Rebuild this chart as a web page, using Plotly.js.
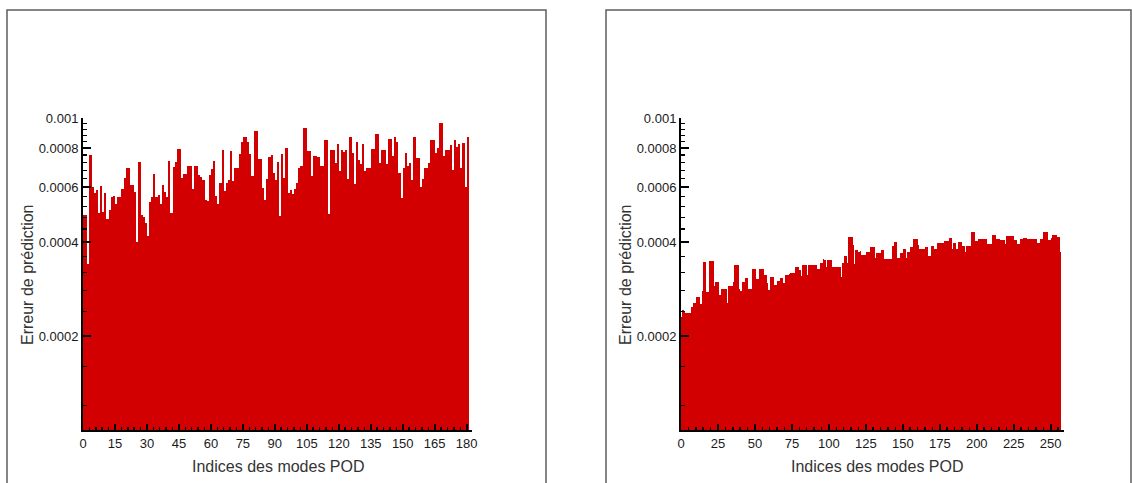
<!DOCTYPE html>
<html>
<head>
<meta charset="utf-8">
<script src="https://cdn.plot.ly/plotly-3.0.1.min.js"></script>
<style>
  html, body { margin: 0; padding: 0; background: #fff; }
  #chart { width: 1132px; height: 483px; }
</style>
</head>
<body>
<div id="chart"></div>
<script>
// Prediction error per POD mode (left: first case, right: second case), values x 1e-4
const errorLeft = [
  4.9, 4.9, 3.4, 7.6, 6.0, 5.75, 5.87, 4.96, 6.04, 5.0,
  5.77, 4.75, 5.06, 5.6, 5.63, 5.32, 5.6, 5.6, 5.9, 6.4,
  6.9, 6.9, 6.08, 6.08, 5.8, 4.0, 7.23, 4.9, 4.8, 4.62,
  4.2, 5.38, 5.6, 6.6, 5.6, 5.65, 5.32, 6.08, 5.8, 5.6,
  7.28, 4.96, 6.97, 7.23, 7.98, 7.98, 6.44, 6.6, 6.6, 7.0,
  7.0, 5.91, 7.0, 7.0, 6.56, 6.48, 6.34, 5.47, 5.4, 6.56,
  6.84, 7.28, 5.63, 5.32, 6.2, 7.92, 5.83, 6.18, 6.34, 7.84,
  6.3, 6.89, 6.89, 7.65, 8.38, 8.69, 8.69, 8.38, 7.65, 6.5,
  9.08, 9.08, 7.41, 7.41, 5.95, 5.47, 6.39, 7.5, 7.6, 6.67,
  6.34, 7.23, 4.84, 7.69, 6.44, 8.04, 5.75, 5.87, 5.7, 5.93,
  6.19, 6.92, 7.0, 9.32, 9.32, 7.84, 7.84, 6.54, 7.56, 7.56,
  7.5, 7.0, 7.0, 8.53, 8.53, 4.94, 7.92, 7.92, 7.18, 8.28,
  6.77, 7.92, 7.8, 7.92, 6.39, 8.69, 7.7, 6.13, 8.36, 7.32,
  7.1, 8.25, 6.75, 6.94, 6.94, 7.98, 7.98, 8.91, 8.91, 7.18,
  7.92, 7.92, 7.1, 8.55, 8.55, 7.54, 8.69, 8.36, 6.64, 5.56,
  6.9, 7.75, 7.0, 7.2, 6.34, 8.69, 7.45, 7.45, 6.0, 6.39,
  6.94, 6.94, 7.2, 8.53, 8.53, 7.7, 8.04, 9.64, 9.64, 7.56,
  7.92, 7.92, 8.18, 6.8, 8.5, 8.1, 8.25, 6.89, 8.3, 6.0,
  8.7
];
const errorRight = [
  2.30, 2.42, 2.41, 2.37, 2.37, 2.37, 2.37, 2.47, 2.56, 2.56,
  2.67, 2.67, 2.67, 2.54, 2.78, 3.45, 3.45, 2.77, 2.77, 3.47,
  3.47, 3.47, 2.90, 2.98, 2.98, 2.98, 2.70, 2.84, 2.84, 2.84,
  2.84, 2.56, 2.90, 2.90, 2.90, 2.98, 3.37, 3.37, 3.37, 2.84,
  2.79, 2.98, 2.98, 3.06, 3.06, 2.84, 2.84, 2.84, 3.27, 3.27,
  3.27, 3.04, 3.04, 3.28, 3.28, 3.28, 3.13, 3.13, 2.96, 2.81,
  3.10, 3.10, 3.10, 2.91, 2.91, 3.00, 3.00, 3.06, 3.06, 2.96,
  3.13, 3.13, 3.13, 3.16, 3.19, 3.19, 3.19, 3.32, 3.32, 3.32,
  3.26, 3.11, 3.37, 3.37, 3.37, 3.13, 3.37, 3.37, 3.37, 3.37,
  3.37, 3.37, 3.28, 3.28, 3.43, 3.43, 3.52, 3.50, 3.32, 3.50,
  3.50, 3.50, 3.32, 3.32, 3.32, 3.32, 3.32, 3.32, 3.10, 3.43,
  3.60, 3.60, 3.42, 4.16, 4.16, 4.16, 3.91, 3.41, 3.77, 3.77,
  3.73, 3.75, 3.65, 3.65, 3.65, 3.73, 3.73, 3.73, 3.86, 3.86,
  3.86, 3.57, 3.70, 3.70, 3.70, 3.77, 3.77, 3.54, 3.54, 3.54,
  3.54, 3.54, 3.54, 3.88, 4.01, 4.01, 3.57, 3.57, 3.70, 3.70,
  3.81, 3.81, 3.57, 3.73, 3.73, 3.86, 3.86, 4.08, 4.08, 4.08,
  3.91, 3.81, 3.81, 3.81, 3.81, 3.86, 3.86, 3.60, 3.60, 3.88,
  3.88, 3.81, 3.81, 3.97, 3.97, 3.97, 3.99, 3.99, 4.03, 4.03,
  4.03, 4.14, 4.14, 3.80, 3.97, 3.97, 3.80, 4.01, 4.01, 4.01,
  3.90, 3.90, 3.73, 3.90, 3.90, 3.90, 4.30, 4.30, 4.30, 4.03,
  4.03, 4.08, 4.08, 4.10, 4.10, 4.10, 4.10, 3.95, 3.95, 3.95,
  4.21, 4.21, 4.21, 4.08, 4.08, 4.08, 4.06, 4.06, 4.06, 3.94,
  4.18, 4.18, 4.18, 4.20, 4.20, 4.06, 4.06, 3.94, 3.94, 4.08,
  4.08, 4.14, 4.14, 4.14, 4.10, 4.10, 4.10, 4.10, 4.10, 4.10,
  4.10, 3.97, 3.97, 4.10, 4.10, 4.30, 4.30, 4.30, 4.06, 4.06,
  4.14, 4.21, 4.21, 4.21, 4.15, 4.15, 3.72
];
const valueScale = 1e-4;

const yTickVals = [0.0002, 0.0004, 0.0006, 0.0008, 0.001];
const yTickText = ['0.0002', '0.0004', '0.0006', '0.0008', '0.001'];
const yMinorStep = 0.00004;

const xTitleText = 'Indices des modes POD';
const yTitleText = 'Erreur de prédiction';

// ----- build traces from the arrays -----
function modes(n) { return Array.from({length: n}, (_, i) => i + 1); }
function scaled(arr) { return arr.map(v => v * valueScale); }

const barColor = '#d20000';
const traceLeft = {
  type: 'bar', x: modes(errorLeft.length), y: scaled(errorLeft),
  width: 1, offset: -1, xaxis: 'x', yaxis: 'y',
  marker: {color: barColor, line: {width: 0}}, hoverinfo: 'x+y'
};
const traceRight = {
  type: 'bar', x: modes(errorRight.length), y: scaled(errorRight),
  width: 1, offset: -1, xaxis: 'x2', yaxis: 'y2',
  marker: {color: barColor, line: {width: 0}}, hoverinfo: 'x+y'
};

// minor ticks on the log axis every 0.00004 (between the labelled values)
const yMinorVals = [];
for (let k = 3; k <= 24; k++) {
  const v = +(k * yMinorStep).toFixed(6);
  if (k % 5 !== 0 && v > 0.0001) yMinorVals.push(v);
}

const W = 1132, H = 483;
const px = x => x / W;
const py = y => 1 - y / H;

const font = 'Liberation Sans, Arial, Helvetica, sans-serif';
const tickFont = {family: font, size: 13, color: '#1a1a1a'};
const titleFont = {family: font, size: 16, color: '#333333'};

const yDomain = [py(430), py(118)];

function yAxis(anchor) {
  return {
    type: 'log', range: [-4, -3], domain: yDomain, anchor: anchor,
    showline: true, linecolor: '#000', linewidth: 2,
    ticks: 'inside', ticklen: 8, tickwidth: 2, tickcolor: '#000',
    tickmode: 'array', tickvals: yTickVals, ticktext: yTickText,
    minor: {tickmode: 'array', tickvals: yMinorVals, ticks: 'inside',
            ticklen: 4, tickwidth: 1.5, tickcolor: '#000', showgrid: false},
    showgrid: false, zeroline: false, tickfont: tickFont,
    automargin: false, fixedrange: true
  };
}
function xAxis(anchor, domain, range, dtick, minorStep) {
  return {
    domain: domain, range: range, anchor: anchor,
    showline: true, linecolor: '#000', linewidth: 2,
    tickmode: 'linear', tick0: 0, dtick: dtick,
    ticks: 'inside', ticklen: 6, tickwidth: 2, tickcolor: '#000',
    minor: {tick0: 0, dtick: minorStep, ticks: 'inside', ticklen: 3,
            tickwidth: 1.5, tickcolor: '#000', showgrid: false},
    showgrid: false, zeroline: false, tickfont: tickFont,
    automargin: false, fixedrange: true
  };
}

const layout = {
  width: W, height: H,
  margin: {l: 0, r: 0, t: 0, b: 0},
  paper_bgcolor: '#fff', plot_bgcolor: '#fff',
  showlegend: false, bargap: 0,
  xaxis: xAxis('y', [px(83), px(472)], [0, 182.5], 15, 3),
  yaxis: yAxis('x'),
  xaxis2: xAxis('y2', [px(681), px(1064)], [0, 259], 25, 5),
  yaxis2: yAxis('x2'),
  shapes: [
    {type: 'rect', xref: 'paper', yref: 'paper', x0: px(7), x1: px(546),
     y0: -0.05, y1: py(10), line: {color: '#5e5e5e', width: 1.5}, layer: 'below'},
    {type: 'rect', xref: 'paper', yref: 'paper', x0: px(606), x1: px(1131),
     y0: -0.05, y1: py(10), line: {color: '#5e5e5e', width: 1.5}, layer: 'below'}
  ],
  annotations: [
    {xref: 'paper', yref: 'paper', x: px(27), y: py(275), text: yTitleText,
     textangle: -90, showarrow: false, font: titleFont, xanchor: 'center', yanchor: 'middle'},
    {xref: 'paper', yref: 'paper', x: px(625), y: py(275), text: yTitleText,
     textangle: -90, showarrow: false, font: titleFont, xanchor: 'center', yanchor: 'middle'},
    {xref: 'paper', yref: 'paper', x: px(278), y: py(466), text: xTitleText,
     showarrow: false, font: titleFont, xanchor: 'center', yanchor: 'middle'},
    {xref: 'paper', yref: 'paper', x: px(877), y: py(466), text: xTitleText,
     showarrow: false, font: titleFont, xanchor: 'center', yanchor: 'middle'}
  ]
};

Plotly.newPlot('chart', [traceLeft, traceRight], layout, {displayModeBar: false, staticPlot: true});
</script>
</body>
</html>
